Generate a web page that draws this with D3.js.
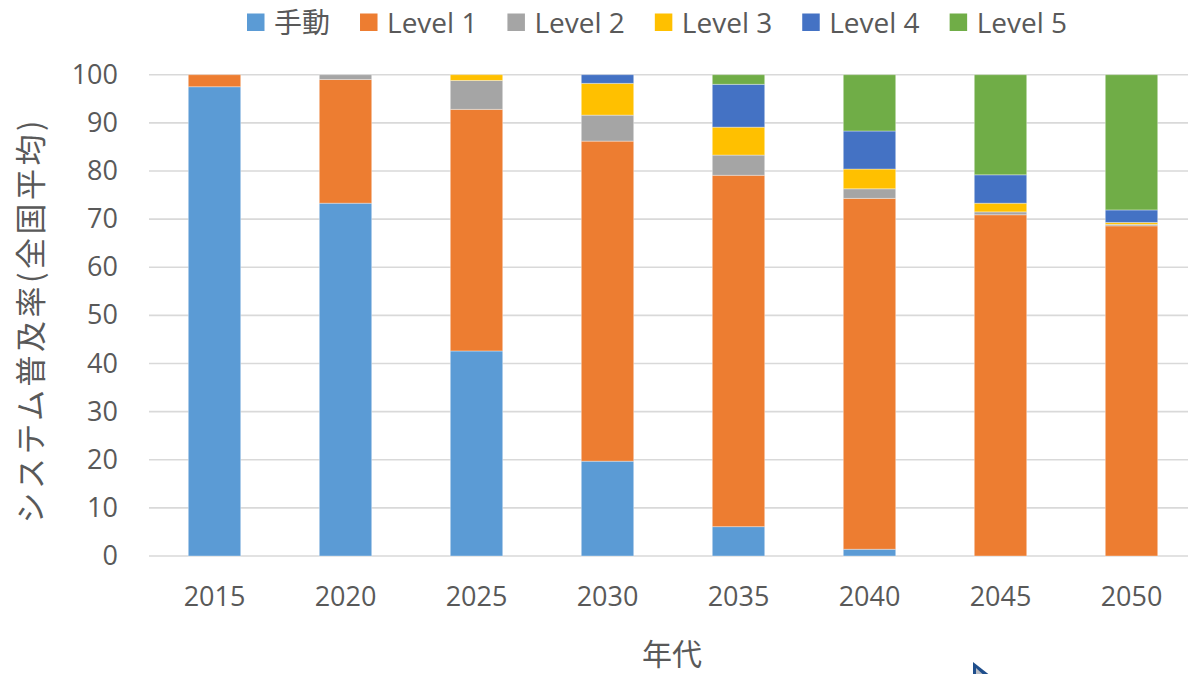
<!DOCTYPE html>
<html>
<head>
<meta charset="utf-8">
<script src="https://cdn.jsdelivr.net/npm/d3@7/dist/d3.min.js"></script>
<style>
  html, body { margin: 0; padding: 0; background: #fff; overflow: hidden; }
  svg { display: block; font-family: "Open Sans", "Noto Sans CJK JP", sans-serif; }
</style>
</head>
<body>
<svg id="chart" width="1188" height="674"></svg>
<script>
// Years on the x axis
const years = ["2015", "2020", "2025", "2030", "2035", "2040", "2045", "2050"];

// Share of each automation level (%), stacked per year
const manual = [97.5, 73.3, 42.6, 19.7, 6.1, 1.4, 0, 0];
const level1 = [2.5, 25.7, 50.2, 66.5, 73.0, 72.9, 70.9, 68.6];
const level2 = [0, 1.0, 6.0, 5.4, 4.2, 2.0, 0.6, 0.3];
const level3 = [0, 0, 1.2, 6.6, 5.8, 4.1, 1.8, 0.4];
const level4 = [0, 0, 0, 1.8, 8.9, 7.9, 5.9, 2.6];
const level5 = [0, 0, 0, 0, 2.0, 11.7, 20.8, 28.1];

const seriesNames = ["手動", "Level 1", "Level 2", "Level 3", "Level 4", "Level 5"];
const seriesColors = ["#5B9BD5", "#ED7D31", "#A5A5A5", "#FFC000", "#4472C4", "#70AD47"];
const yTicks = [0, 10, 20, 30, 40, 50, 60, 70, 80, 90, 100];

const seriesValues = [manual, level1, level2, level3, level4, level5];
const rows = years.map((y, i) => {
  const r = { year: y };
  seriesNames.forEach((n, s) => { r[n] = seriesValues[s][i]; });
  return r;
});

const svg = d3.select("#chart");
const textColor = "#595959";
const gridColor = "#D9D9D9";

const plot = { left: 149, right: 1197, top: 74.7, bottom: 556 };

const x = d3.scaleBand()
  .domain(years)
  .range([plot.left, plot.right])
  .paddingInner(0.6)
  .paddingOuter(0.3);

const y = d3.scaleLinear()
  .domain([0, 100])
  .range([plot.bottom, plot.top]);

// Horizontal gridlines
svg.append("g")
  .selectAll("line")
  .data(yTicks)
  .join("line")
  .attr("x1", plot.left)
  .attr("x2", plot.right)
  .attr("y1", d => y(d))
  .attr("y2", d => y(d))
  .attr("stroke", gridColor)
  .attr("stroke-width", 1.6);

// Y axis labels
const yAxis = svg.append("g")
  .attr("transform", `translate(${plot.left},0)`)
  .call(d3.axisLeft(y).tickValues(yTicks).tickSize(0).tickPadding(31));
yAxis.select(".domain").remove();
yAxis.selectAll("text")
  .attr("fill", textColor)
  .style("font-size", "27px")
  .style("font-family", "'Open Sans', sans-serif");

// X axis labels
const xAxis = svg.append("g")
  .attr("transform", `translate(0,${plot.bottom})`)
  .call(d3.axisBottom(x).tickSize(0).tickPadding(31));
xAxis.select(".domain").remove();
xAxis.selectAll("text")
  .attr("fill", textColor)
  .style("font-size", "27px")
  .style("font-family", "'Open Sans', sans-serif");

// Stacked bars
const stack = d3.stack().keys(seriesNames)(rows);
svg.append("g")
  .selectAll("g")
  .data(stack)
  .join("g")
  .attr("fill", (d, i) => seriesColors[i])
  .selectAll("rect")
  .data(d => d.filter(p => p[1] - p[0] > 0))
  .join("rect")
  .attr("x", d => x(d.data.year))
  .attr("width", x.bandwidth())
  .attr("y", d => y(d[1]))
  .attr("height", d => y(d[0]) - y(d[1]))
  .attr("stroke", "rgba(255,255,255,0.35)")
  .attr("stroke-width", 1);

// Axis titles
svg.append("text")
  .attr("x", 672)
  .attr("y", 665)
  .attr("text-anchor", "middle")
  .attr("fill", textColor)
  .style("font-family", "'Noto Sans CJK JP', sans-serif")
  .style("font-size", "30px")
  .text("年代");

svg.append("text")
  .attr("transform", `translate(42,${(plot.top + plot.bottom) / 2 + 5}) rotate(-90)`)
  .attr("text-anchor", "middle")
  .attr("fill", textColor)
  .style("font-family", "'Noto Sans CJK JP', sans-serif")
  .style("font-size", "31px")
  .style("letter-spacing", "3.5px")
  .text("システム普及率(全国平均)");

// Legend along the top
const legend = svg.append("g");
let lx = 247;
seriesNames.forEach((name, i) => {
  const item = legend.append("g").attr("transform", `translate(${lx},0)`);
  item.append("rect")
    .attr("x", 0).attr("y", 13.5)
    .attr("width", 17.5).attr("height", 17.5)
    .attr("fill", seriesColors[i]);
  const t = item.append("text")
    .attr("x", 27)
    .attr("y", 33)
    .attr("fill", textColor)
    .style("font-size", "28px")
    .style("font-family", i === 0 ? "'Noto Sans CJK JP', sans-serif" : "'Open Sans', sans-serif")
    .text(name);
  lx += 27 + t.node().getComputedTextLength() + 30;
});

// Mouse pointer left on the canvas
svg.append("path")
  .attr("d", "M973,662 L973,680 L996,680 Z")
  .attr("fill", "#1F4E8C");
svg.append("path")
  .attr("d", "M976,668 L976,680 L989,680 Z")
  .attr("fill", "#B8BCC4");
</script>
</body>
</html>
